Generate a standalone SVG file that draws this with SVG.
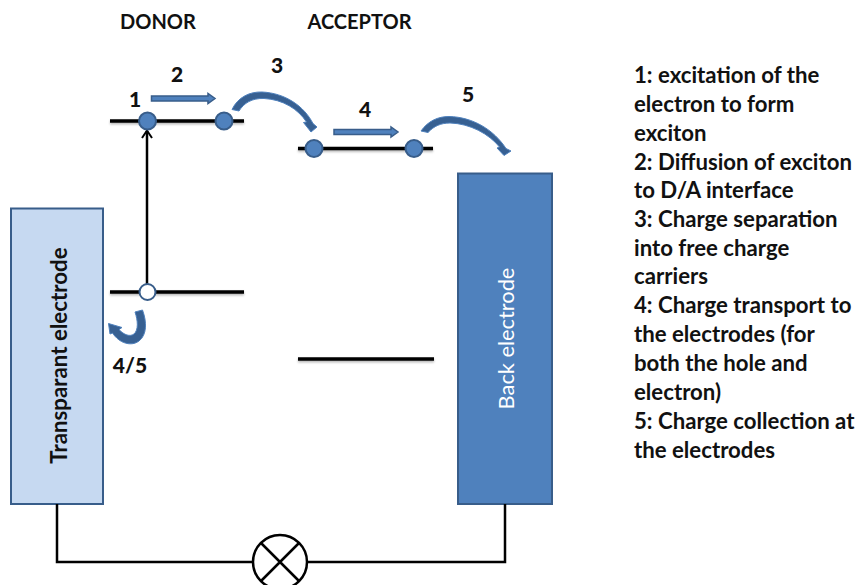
<svg xmlns="http://www.w3.org/2000/svg" width="857" height="585" viewBox="0 0 857 585">
<style>
text{font-family:"Lato","Carlito","Liberation Sans",sans-serif;font-weight:700;fill:#111}
.lab{font-size:20px;text-anchor:middle}
.num{font-size:21px;text-anchor:middle;font-weight:900}
.note{font-size:22.200px}
.lvl{stroke:#000;stroke-width:3.500;fill:none;filter:url(#sh)}
.wire{stroke:#000;stroke-width:2.500;fill:none}
.dot{fill:#4f81bd;stroke:#385d8a;stroke-width:2}
.blk{fill:#4f81bd;stroke:#385d8a;stroke-width:1.500}
.cur{fill:#376092;stroke:#4f81bd;stroke-width:1}
</style>
<defs>
<filter id="sh" filterUnits="userSpaceOnUse" x="0" y="0" width="857" height="585"><feDropShadow dx="0" dy="1.500" stdDeviation="1.200" flood-color="#000" flood-opacity=".3"/></filter>
<marker id="open" markerWidth="12" markerHeight="12" refX="9" refY="6" orient="auto" markerUnits="userSpaceOnUse"><path d="M2 1 L9.500 6 L2 11" fill="none" stroke="#000" stroke-width="2"/></marker>
</defs>
<g id="transparent-electrode"><rect x="11" y="208.500" width="92" height="295.500" fill="#c6d9f1" stroke="#385d8a" stroke-width="2"/>
<text transform="translate(67,355.500) rotate(-90)" style="font-size:22.300px" text-anchor="middle">Transparant electrode</text></g>
<g id="back-electrode"><rect x="458" y="173.500" width="94" height="330.500" fill="#4f81bd" stroke="#385d8a" stroke-width="2"/>
<text transform="translate(514,338.500) rotate(-90)" style="font-size:21.800px;font-weight:400;fill:#fff" text-anchor="middle">Back electrode</text></g>
<g id="connectors">
<path class="wire" d="M57 504V562H253M307 562H505V504"/>
<path d="M147 284V131" stroke="#000" stroke-width="2.500" fill="none" marker-end="url(#open)"/>
<path class="blk" d="M151.500 96H208V93.500L215 98.500L208 103.500V101H151.500Z"/>
<path class="blk" d="M334 129.500H391V127L398 132L391 137V134.500H334Z"/>
<path class="cur" d="M232 109.500C238 97 250 91.500 262 92C285 93 304 106 313 123.500L317 127L311 132L303.500 122.500L306.500 122C298 109 283 99.500 264 98.500C252 98 244 103 239 111Z"/>
<path class="cur" d="M421 131C428 121 438 116.500 449 116.500C473 117 494 130 506 148.500L511 151L504 155.500L497 148L499.500 147C489 134 470 123.500 450 123C441 123 434 126 428 132.500Z"/>
<path class="cur" d="M135 312L142.500 310C147 322 147 335 139 341C131 347 119 343 112.500 333L110 334L108.500 323.500L122 327.500L119 329.500C124 335 130 337 134 334C138.500 330 138 321 135 312Z"/>
</g>
<g id="level-donor-lumo"><path class="lvl" d="M110 121H244"/></g>
<g id="level-acceptor-lumo"><path class="lvl" d="M298 148.500H433"/></g>
<g id="level-donor-homo"><path class="lvl" d="M110 292H244"/></g>
<g id="level-acceptor-homo"><path class="lvl" d="M298 359H434"/></g>
<g id="dot-1"><circle class="dot" cx="147.500" cy="121" r="8.500"/></g>
<g id="dot-2"><circle class="dot" cx="224" cy="121" r="8.500"/></g>
<g id="dot-3"><circle class="dot" cx="314" cy="148.500" r="8.500"/></g>
<g id="dot-4"><circle class="dot" cx="414" cy="148.500" r="8.500"/></g>
<g id="dot-hole"><circle cx="147.500" cy="292" r="8" fill="#fff" stroke="#385d8a" stroke-width="2"/></g>
<g id="lamp"><circle cx="280" cy="562" r="27" fill="#fff" stroke="#000" stroke-width="2.500"/>
<path d="M261 543L299 581M299 543L261 581" stroke="#000" stroke-width="2.500"/></g>
<g id="labels">
<text class="lab" x="158" y="29">DONOR</text>
<text class="lab" x="359.500" y="29">ACCEPTOR</text>
<text class="num" x="135" y="107">1</text>
<text class="num" x="177" y="82">2</text>
<text class="num" x="277" y="73">3</text>
<text class="num" x="365" y="117">4</text>
<text class="num" x="468" y="102">5</text>
<text class="num" x="130" y="373">4/5</text>
</g>
<g id="legend">
<text class="note" x="634" y="83">1: excitation of the</text>
<text class="note" x="634" y="112">electron to form</text>
<text class="note" x="634" y="141">exciton</text>
<text class="note" x="634" y="170">2: Diffusion of exciton</text>
<text class="note" x="634" y="198">to D/A interface</text>
<text class="note" x="634" y="227">3: Charge separation</text>
<text class="note" x="634" y="256">into free charge</text>
<text class="note" x="634" y="284">carriers</text>
<text class="note" x="634" y="313">4: Charge transport to</text>
<text class="note" x="634" y="342">the electrodes (for</text>
<text class="note" x="634" y="371">both the hole and</text>
<text class="note" x="634" y="400">electron)</text>
<text class="note" x="634" y="429">5: Charge collection at</text>
<text class="note" x="634" y="458">the electrodes</text>
</g>
</svg>
